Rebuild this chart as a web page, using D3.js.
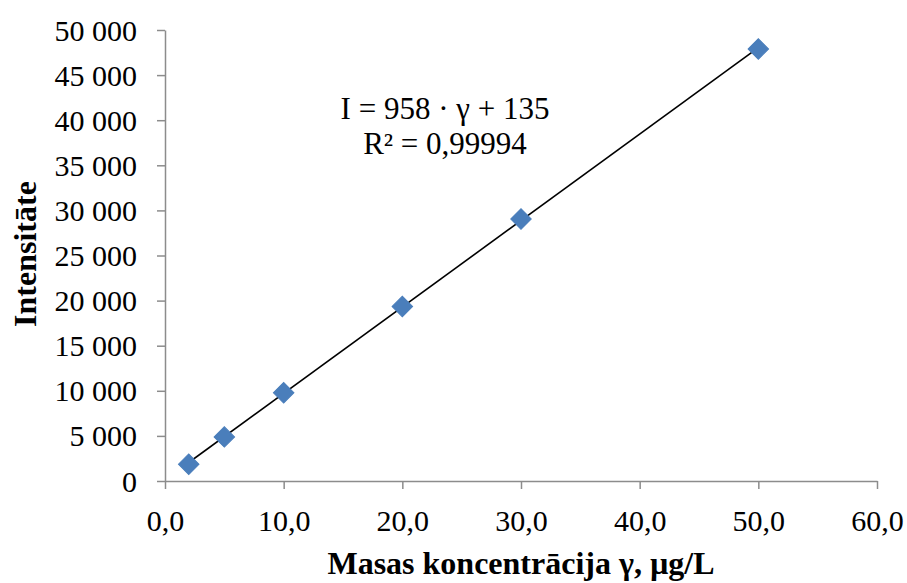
<!DOCTYPE html>
<html>
<head>
<meta charset="utf-8">
<script src="https://cdn.jsdelivr.net/npm/d3@7/dist/d3.min.js"></script>
<style>
  body { margin: 0; background: #fff; }
</style>
</head>
<body>
<svg id="chart" width="907" height="583" font-family="'Liberation Serif', 'Times New Roman', serif"></svg>
<script>
"use strict"

// calibration points
var concentrations = [2, 5, 10, 20, 30, 50];
var intensities = [1860, 4890, 9780, 19350, 29050, 47900];

// trendline shown on the chart
var SLOPE = 958;
var INTERCEPT = 135;
var equationLines = ["I = 958 · γ + 135", "R² = 0,99994"];

var xTicks = [0, 10, 20, 30, 40, 50, 60];
var yTicks = [0, 5000, 10000, 15000, 20000, 25000, 30000, 35000, 40000, 45000, 50000];

var FONT = "'Liberation Serif', 'Times New Roman', serif";

var svg = d3.select("#chart");

var x = d3.scaleLinear().domain([0, 60]).range([165, 877]);
var y = d3.scaleLinear().domain([0, 50000]).range([481, 30]);

var fmtX = function(d) { return d.toFixed(1).replace(".", ","); };
var fmtY = function(d) { return d3.format(",")(d).replace(/,/g, "\u00a0"); };

var axisColor = "#8c8c8c";

// x axis
var gx = svg.append("g")
    .attr("transform", "translate(0," + y(0) + ")")
    .call(d3.axisBottom(x).tickValues(xTicks).tickSize(8).tickSizeOuter(0).tickFormat(fmtX))
    .attr("font-family", FONT);

gx.select(".domain").attr("stroke", axisColor).attr("stroke-width", 1.5);
gx.selectAll(".tick line").attr("stroke", axisColor).attr("stroke-width", 1.5);
gx.selectAll(".tick text")
    .attr("font-size", 30)
    .attr("fill", "#000")
    .attr("dy", null)
    .attr("y", 50);

// y axis
var gy = svg.append("g")
    .attr("transform", "translate(" + x(0) + ",0)")
    .call(d3.axisLeft(y).tickValues(yTicks).tickSize(8).tickSizeOuter(0).tickFormat(fmtY))
    .attr("font-family", FONT);

gy.select(".domain").attr("stroke", axisColor).attr("stroke-width", 1.5);
gy.selectAll(".tick line").attr("stroke", axisColor).attr("stroke-width", 1.5);
gy.selectAll(".tick text")
    .attr("font-size", 30)
    .attr("fill", "#000")
    .attr("dy", null)
    .attr("y", 10)
    .attr("x", -28);

// trendline
var x0 = d3.min(concentrations), x1 = d3.max(concentrations);
svg.append("line")
    .attr("x1", x(x0))
    .attr("y1", y(SLOPE * x0 + INTERCEPT))
    .attr("x2", x(x1))
    .attr("y2", y(SLOPE * x1 + INTERCEPT))
    .attr("stroke", "#000")
    .attr("stroke-width", 1.6);

// markers
var diamond = d3.symbol().type(d3.symbolSquare).size(210);

svg.selectAll(".pt")
    .data(concentrations)
    .enter()
    .append("path")
    .attr("class", "pt")
    .attr("d", diamond)
    .attr("transform", function(d, i) { return "translate(" + x(d) + "," + y(intensities[i]) + ") rotate(45)"; })
    .attr("fill", "#4a7ebb")
    .attr("stroke", "#4a7ebb")
    .attr("stroke-width", 1);

// equation
svg.selectAll(".eq")
    .data(equationLines)
    .enter()
    .append("text")
    .attr("class", "eq")
    .attr("x", 445)
    .attr("y", function(d, i) { return 119 + i * 35; })
    .attr("text-anchor", "middle")
    .attr("font-size", 31)
    .text(function(d) { return d; });

// axis titles
svg.append("text")
    .attr("x", (x.range()[0] + x.range()[1]) / 2)
    .attr("y", 574)
    .attr("text-anchor", "middle")
    .attr("font-size", 32)
    .attr("font-weight", "bold")
    .text("Masas koncentrācija γ, µg/L");

svg.append("text")
    .attr("transform", "translate(36,254) rotate(-90)")
    .attr("text-anchor", "middle")
    .attr("font-size", 32)
    .attr("font-weight", "bold")
    .text("Intensitāte");
</script>
</body>
</html>
